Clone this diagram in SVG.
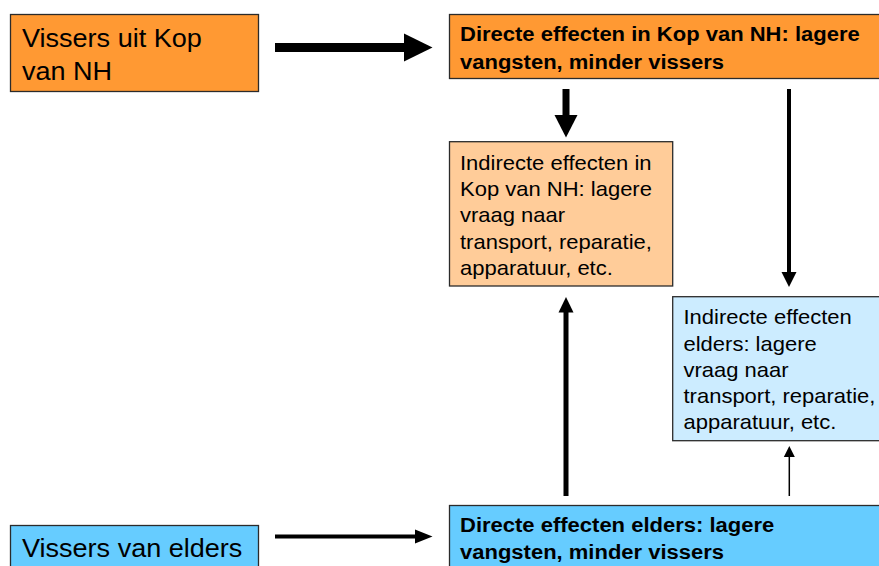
<svg xmlns="http://www.w3.org/2000/svg" width="879" height="566" viewBox="0 0 879 566">
<style>
.box{stroke:#2b2b2b;stroke-width:1.3}
.org{fill:#FF9933}
.lorg{fill:#FFCC99}
.blu{fill:#66CCFF}
.lblu{fill:#CCECFF}
text{font-family:"Liberation Sans",Arial,Helvetica,sans-serif;fill:#000}
.big{font-size:26px}
.reg{font-size:20px}
.bold{font-size:21px;font-weight:bold}
.ln{stroke:#000;fill:none}
.hd{fill:#000}
</style>
<rect width="879" height="566" fill="#fff"/>
<g id="connectors">
  <line class="ln" x1="275" y1="47.5" x2="405" y2="47.5" stroke-width="9"/>
  <polygon class="hd" points="404,33.5 432.5,47.5 404,61.5"/>
  <line class="ln" x1="275" y1="536.5" x2="416" y2="536.5" stroke-width="4"/>
  <polygon class="hd" points="415,529.5 432.5,536.5 415,543.5"/>
  <line class="ln" x1="566" y1="89" x2="566" y2="116" stroke-width="7"/>
  <polygon class="hd" points="554.5,115 577.5,115 566,137.5"/>
  <line class="ln" x1="789" y1="89" x2="789" y2="273" stroke-width="4"/>
  <polygon class="hd" points="781.5,272 796.5,272 789,287"/>
  <line class="ln" x1="566" y1="496" x2="566" y2="311" stroke-width="5"/>
  <polygon class="hd" points="558.5,312.5 573.5,312.5 566,297"/>
  <line class="ln" x1="789.3" y1="496" x2="789.3" y2="456" stroke-width="1.5"/>
  <polygon class="hd" points="783.8,457 794.8,457 789.3,446"/>
</g>
<g id="node-vissers-kop">
  <rect class="box org" x="10.5" y="14.5" width="248" height="77"/>
  <text class="big" transform="translate(22,47) scale(1.04,1)"><tspan x="0" y="0">Vissers uit Kop</tspan><tspan x="0" y="32.6">van NH</tspan></text>
</g>
<g id="node-direct-kop">
  <rect class="box org" x="449.5" y="14.5" width="440" height="64"/>
  <text class="bold" transform="translate(460,41) scale(1.048,1)"><tspan x="0" y="0">Directe effecten in Kop van NH: lagere</tspan><tspan x="0" y="28">vangsten, minder vissers</tspan></text>
</g>
<g id="node-indirect-kop">
  <rect class="box lorg" x="449.5" y="141.7" width="223.2" height="144.3"/>
  <text class="reg" transform="translate(460,169.5) scale(1.1,1)"><tspan x="0" y="0">Indirecte effecten in</tspan><tspan x="0" y="26.5">Kop van NH: lagere</tspan><tspan x="0" y="53">vraag naar</tspan><tspan x="0" y="79.5">transport, reparatie,</tspan><tspan x="0" y="106">apparatuur, etc.</tspan></text>
</g>
<g id="node-indirect-elders">
  <rect class="box lblu" x="672.7" y="296.7" width="220" height="144"/>
  <text class="reg" transform="translate(683.5,324.3) scale(1.1,1)"><tspan x="0" y="0">Indirecte effecten</tspan><tspan x="0" y="26.25">elders: lagere</tspan><tspan x="0" y="52.5">vraag naar</tspan><tspan x="0" y="78.75">transport, reparatie,</tspan><tspan x="0" y="105">apparatuur, etc.</tspan></text>
</g>
<g id="node-vissers-elders">
  <rect class="box blu" x="10.5" y="525.5" width="248" height="60"/>
  <text class="big" transform="translate(22,557) scale(1.04,1)">Vissers van elders</text>
</g>
<g id="node-direct-elders">
  <rect class="box blu" x="449.5" y="505.5" width="440" height="80"/>
  <text class="bold" transform="translate(460,531.5) scale(1.048,1)"><tspan x="0" y="0">Directe effecten elders: lagere</tspan><tspan x="0" y="27.5">vangsten, minder vissers</tspan></text>
</g>
</svg>
